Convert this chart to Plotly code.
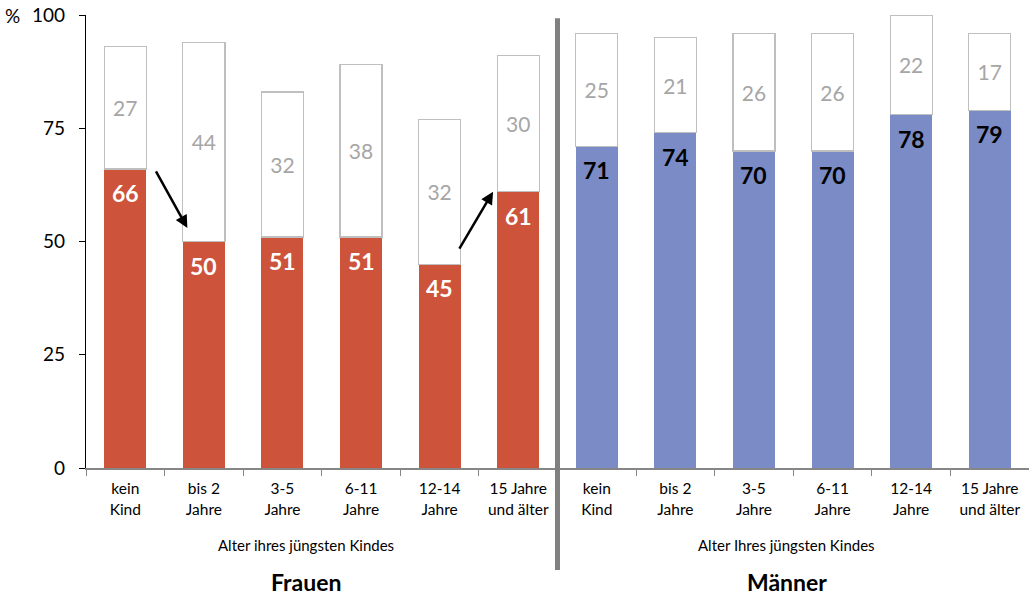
import plotly.graph_objects as go

categories = ["kein<br>Kind", "bis 2<br>Jahre", "3-5<br>Jahre", "6-11<br>Jahre", "12-14<br>Jahre", "15 Jahre<br>und älter"]
frauen_main = [66, 50, 51, 51, 45, 61]
frauen_rest = [27, 44, 32, 38, 32, 30]
maenner_main = [71, 74, 70, 70, 78, 79]
maenner_rest = [25, 21, 26, 26, 22, 17]
y_ticks = [0, 25, 50, 75, 100]

FONT = "Lato"
RED = "#CD533B"
BLUE = "#7B8BC6"

xf = list(range(6))
xm = list(range(6, 12))
W = 0.535

fig = go.Figure()
fig.add_bar(x=xf, y=frauen_main, width=W, marker=dict(color=RED, line=dict(width=0)),
            showlegend=False, hoverinfo="skip")
fig.add_bar(x=xm, y=maenner_main, width=W, marker=dict(color=BLUE, line=dict(width=0)),
            showlegend=False, hoverinfo="skip")
fig.add_bar(x=xf + xm, y=frauen_rest + maenner_rest, width=W,
            marker=dict(color="white", line=dict(color="#BFBFBF", width=1.2)),
            text=frauen_rest + maenner_rest, textposition="inside", insidetextanchor="middle",
            textfont=dict(family=FONT, size=21, color="#A6A6A6"),
            constraintext="none", showlegend=False, hoverinfo="skip")

# value labels inside the coloured bars, near their top
for xs, vals, col in [(xf, frauen_main, "white"), (xm, maenner_main, "black")]:
    for x, v in zip(xs, vals):
        fig.add_annotation(x=x, y=v, xref="x", yref="y", text="<b>%d</b>" % v, showarrow=False,
                           yanchor="middle", yshift=-24,
                           font=dict(family=FONT, size=23, color=col))

fig.update_layout(
    barmode="stack",
    width=1029, height=600,
    margin=dict(l=86, r=0, t=15, b=132),
    paper_bgcolor="white", plot_bgcolor="white",
    font=dict(family=FONT, color="black"),
    xaxis=dict(range=[-0.5, 11.5], tickmode="array", tickvals=list(range(12)),
               ticktext=categories + categories, ticks="", showgrid=False, zeroline=False,
               showline=True, linecolor="#868686", linewidth=1.5, automargin=False,
               tickfont=dict(family=FONT, size=15.5), ticklabelstandoff=6,
               ticklabeloverflow="allow",
               minor=dict(tickmode="array", tickvals=[i - 0.5 for i in range(13)],
                          ticks="outside", ticklen=6, tickcolor="#868686", tickwidth=1)),
    yaxis=dict(range=[0, 100], tickmode="array", tickvals=y_ticks,
               ticktext=[str(v) for v in y_ticks], ticks="outside", ticklen=6,
               tickcolor="black", showgrid=False, zeroline=False, automargin=False,
               ticklabeloverflow="allow", ticklabelstandoff=10,
               showline=True, linecolor="black", linewidth=1.2,
               tickfont=dict(family=FONT, size=19)),
)

# separator line between Frauen and Männer
fig.add_shape(type="line", xref="paper", yref="paper", x0=0.5, x1=0.5, y0=-0.225, y1=0.993,
              line=dict(color="#808080", width=5))

# percent sign
fig.add_annotation(text="%", xref="paper", yref="y", x=-0.088, y=100, showarrow=False,
                   xanchor="left", font=dict(family=FONT, size=19))

# axis subtitles and group titles
for cx, sub, grp in [(0.233, "Alter ihres jüngsten Kindes", "Frauen"),
                     (0.743, "Alter Ihres jüngsten Kindes", "Männer")]:
    fig.add_annotation(text=sub, xref="paper", yref="paper", x=cx, y=-0.195, showarrow=False,
                       xanchor="center", font=dict(family=FONT, size=15))
    fig.add_annotation(text="<b>" + grp + "</b>", xref="paper", yref="paper", x=cx, y=-0.288,
                       xanchor="center", showarrow=False, font=dict(family=FONT, size=23))

# arrows
fig.add_annotation(x=0.79, y=53, ax=0.38, ay=65.8, xref="x", yref="y", axref="x", ayref="y",
                   showarrow=True, arrowhead=2, arrowsize=1, arrowwidth=2.5, arrowcolor="black", text="")
fig.add_annotation(x=4.68, y=61, ax=4.24, ay=48.1, xref="x", yref="y", axref="x", ayref="y",
                   showarrow=True, arrowhead=2, arrowsize=1, arrowwidth=2.5, arrowcolor="black", text="")

fig.write_html("out.html", config={"displayModeBar": False},
               post_script="document.body.style.margin='0';")
